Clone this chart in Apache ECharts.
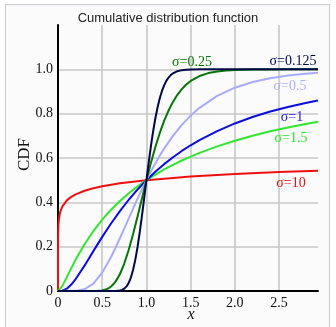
<!DOCTYPE html>
<html>
<head>
<meta charset="utf-8">
<script src="https://cdn.jsdelivr.net/npm/echarts@6/dist/echarts.min.js"></script>
<style>
html,body{margin:0;padding:0;background:#fff;overflow:hidden;}
#frame{position:absolute;left:5px;top:4px;width:323px;height:340px;border:1px solid #c8ccd1;background:#fbfbfb;}
#chart{position:absolute;left:0;top:0;width:336px;height:327px;}
</style>
</head>
<body>
<div id="frame"></div>
<div id="chart"></div>
<script>
// Log-normal CDF values (mu = 0)
const titleText = 'Cumulative distribution function';
const xTicks = [0, 0.5, 1.0, 1.5, 2.0, 2.5];
const yTicks = [0, 0.2, 0.4, 0.6, 0.8, 1.0];

const x0125 = [0, 0.6, 0.65, 0.7, 0.725, 0.75, 0.775, 0.8, 0.825, 0.85, 0.875, 0.9, 0.925, 0.95, 0.975, 1.0, 1.025, 1.05, 1.075, 1.1, 1.125, 1.15, 1.175, 1.2, 1.225, 1.25, 1.275, 1.3, 1.35, 1.4, 1.45, 1.5, 1.6, 2.0, 2.94];
const y0125 = [0, 0, 0.0003, 0.0022, 0.0050, 0.0107, 0.0207, 0.0371, 0.0619, 0.0968, 0.1428, 0.1997, 0.2663, 0.3409, 0.4197, 0.5, 0.5783, 0.6518, 0.7186, 0.7770, 0.8270, 0.8682, 0.9015, 0.9277, 0.9478, 0.9629, 0.9740, 0.9821, 0.9918, 0.9964, 0.9985, 0.9994, 1.0, 1.0, 1.0];

const x025 = [0, 0.4, 0.45, 0.5, 0.55, 0.575, 0.6, 0.625, 0.65, 0.675, 0.7, 0.725, 0.75, 0.8, 0.85, 0.9, 0.95, 1.0, 1.05, 1.1, 1.15, 1.2, 1.25, 1.3, 1.35, 1.4, 1.45, 1.5, 1.6, 1.7, 1.8, 1.9, 2.0, 2.2, 2.4, 2.6, 2.94];
const y025 = [0, 0.0001, 0.0007, 0.0028, 0.0084, 0.0134, 0.0205, 0.0301, 0.0424, 0.0580, 0.0768, 0.0992, 0.1249, 0.1860, 0.2578, 0.3368, 0.4188, 0.5, 0.5773, 0.6485, 0.7119, 0.7671, 0.8140, 0.8530, 0.8850, 0.9109, 0.9314, 0.9476, 0.9699, 0.9831, 0.9906, 0.9949, 0.9972, 0.9992, 0.9998, 1.0, 1.0];

const x05 = [0, 0.2, 0.3, 0.4, 0.5, 0.6, 0.65, 0.7, 0.75, 0.8, 0.85, 0.9, 0.95, 1.0, 1.05, 1.1, 1.15, 1.2, 1.3, 1.4, 1.5, 1.6, 1.8, 2.0, 2.2, 2.4, 2.6, 2.8, 2.94];
const y05 = [0, 0.0006, 0.0080, 0.0334, 0.0829, 0.1534, 0.1944, 0.2379, 0.2826, 0.3278, 0.3726, 0.4165, 0.4591, 0.5, 0.5389, 0.5756, 0.6101, 0.6423, 0.7001, 0.7495, 0.7913, 0.8264, 0.8801, 0.9172, 0.9426, 0.9600, 0.9720, 0.9803, 0.9846];

const x1 = [0, 0.02, 0.05, 0.1, 0.15, 0.2, 0.3, 0.4, 0.5, 0.6, 0.7, 0.8, 0.9, 1.0, 1.1, 1.2, 1.3, 1.4, 1.5, 1.6, 1.8, 2.0, 2.2, 2.4, 2.6, 2.8, 2.94];
const y1 = [0, 0.0001, 0.0014, 0.0106, 0.0289, 0.0538, 0.1143, 0.1798, 0.2441, 0.3047, 0.3605, 0.4117, 0.4581, 0.5, 0.5380, 0.5723, 0.6035, 0.6318, 0.6574, 0.6808, 0.7216, 0.7559, 0.7848, 0.8095, 0.8303, 0.8484, 0.8596];

const x15 = [0, 0.02, 0.05, 0.1, 0.15, 0.2, 0.3, 0.4, 0.5, 0.6, 0.7, 0.8, 0.9, 1.0, 1.1, 1.2, 1.3, 1.4, 1.5, 1.6, 1.8, 2.0, 2.2, 2.4, 2.6, 2.8, 2.94];
const y15 = [0, 0.0046, 0.0229, 0.0624, 0.1030, 0.1417, 0.2110, 0.2706, 0.3220, 0.3666, 0.4060, 0.4408, 0.4721, 0.5, 0.5253, 0.5484, 0.5694, 0.5888, 0.6065, 0.6230, 0.6524, 0.6780, 0.7005, 0.7203, 0.7379, 0.7538, 0.7639];

const x10 = [0, 0.000001, 0.0001, 0.001, 0.005, 0.01, 0.02, 0.03, 0.05, 0.1, 0.15, 0.2, 0.3, 0.4, 0.5, 0.7, 1.0, 1.5, 2.0, 2.5, 2.94];
const y10 = [0, 0.0837, 0.1785, 0.2449, 0.2981, 0.3226, 0.3479, 0.3629, 0.3822, 0.4089, 0.4248, 0.4361, 0.4521, 0.4635, 0.4724, 0.4858, 0.5, 0.5162, 0.5276, 0.5365, 0.5429];

const seriesNames = ['σ=10', 'σ=1.5', 'σ=1', 'σ=0.5', 'σ=0.25', 'σ=0.125'];

const pair = (xs, ys) => xs.map((x, i) => [x, ys[i]]);
const serif = '"Liberation Serif", "DejaVu Serif", serif';

const defs = [
  {name: seriesNames[0], xs: x10, ys: y10, color: '#ee1010'},
  {name: seriesNames[1], xs: x15, ys: y15, color: '#30e630'},
  {name: seriesNames[2], xs: x1, ys: y1, color: '#0c0cdc'},
  {name: seriesNames[3], xs: x05, ys: y05, color: '#a9abf6'},
  {name: seriesNames[4], xs: x025, ys: y025, color: '#067406'},
  {name: seriesNames[5], xs: x0125, ys: y0125, color: '#000848'}
];

const labels = [
  {text: seriesNames[5], x: 293, y: 61, color: '#000848'},
  {text: seriesNames[4], x: 192, y: 62, color: '#067406'},
  {text: seriesNames[3], x: 290, y: 86, color: '#b0b2f2'},
  {text: seriesNames[2], x: 292, y: 117, color: '#1a1ad0'},
  {text: seriesNames[1], x: 291, y: 138, color: '#30e030'},
  {text: seriesNames[0], x: 291, y: 183, color: '#e01010'}
];

const chart = echarts.init(document.getElementById('chart'), null, {renderer: 'canvas'});
chart.setOption({
  backgroundColor: 'transparent',
  animation: false,
  title: {
    text: titleText, left: 'center', top: 7,
    textStyle: {fontSize: 13, fontWeight: 'normal', color: '#222', fontFamily: '"Liberation Sans", Arial, sans-serif'}
  },
  grid: {left: 58, right: 18, top: 25, bottom: 36, containLabel: false},
  xAxis: {
    type: 'value', min: 0, max: 2.94, interval: 0.5,
    axisLine: {show: true, onZero: false, lineStyle: {color: '#000', width: 2}},
    axisTick: {show: false},
    splitLine: {show: true, showMinLine: false, showMaxLine: false, lineStyle: {color: '#c8c8c8', width: 1.6}},
    axisLabel: {
      showMaxLabel: false, margin: 5, color: '#111', fontSize: 14, fontFamily: serif,
      formatter: v => (xTicks.indexOf(v) >= 0 ? (v === 0 ? '0' : v.toFixed(1)) : '')
    }
  },
  yAxis: {
    type: 'value', min: 0, max: 1.2, interval: 0.2,
    axisLine: {show: true, onZero: false, lineStyle: {color: '#000', width: 2}},
    axisTick: {show: false},
    splitLine: {show: true, showMinLine: false, showMaxLine: false, lineStyle: {color: '#c8c8c8', width: 1.6}},
    axisLabel: {
      showMaxLabel: false, margin: 5, color: '#111', fontSize: 14, fontFamily: serif,
      formatter: v => {
        const r = Math.round(v * 10) / 10;
        if (yTicks.indexOf(r) < 0) return '';
        return r === 0 ? '0' : r.toFixed(1);
      }
    }
  },
  series: defs.map(d => ({
    type: 'line', name: d.name, data: pair(d.xs, d.ys),
    showSymbol: false, smooth: false,
    lineStyle: {color: d.color, width: 2}, itemStyle: {color: d.color},
    clip: true
  })),
  graphic: [
    {type: 'text', left: 16, top: 138, rotation: Math.PI / 2,
     style: {text: 'CDF', font: '17px ' + serif, fill: '#111', textAlign: 'center', textVerticalAlign: 'middle'}},
    {type: 'text', x: 191, y: 315,
     style: {text: 'x', font: 'italic 16px ' + serif, fill: '#111', textAlign: 'center', textVerticalAlign: 'middle'}}
  ].concat(labels.map(l => ({
    type: 'text', x: l.x, y: l.y, z: 10,
    style: {text: l.text, font: '14px ' + serif, fill: l.color, textAlign: 'center', textVerticalAlign: 'middle'}
  })))
});
</script>
</body>
</html>
